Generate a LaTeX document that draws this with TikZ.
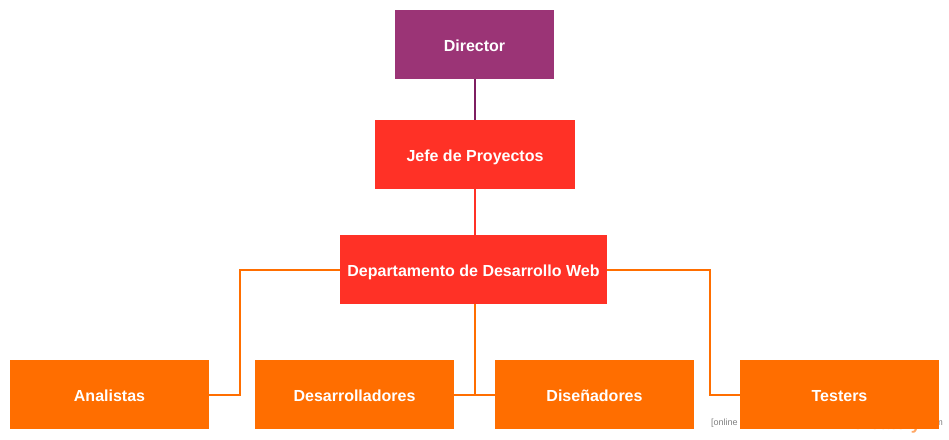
\documentclass[tikz,border=0pt]{standalone}
\usepackage{fontspec}
\setmainfont{Liberation Sans}
\usetikzlibrary{positioning}
\definecolor{dirpurple}{HTML}{9B3476}
\definecolor{dirline}{HTML}{7E1F62}
\definecolor{jefered}{HTML}{FF3126}
\definecolor{teamorange}{HTML}{FF6E00}
\tikzset{
    % Boxes of the chart
    chart box/.style={rectangle, minimum height=69pt, inner sep=0pt, text=white,
        text height=14.5pt, text depth=0pt,
        font=\fontsize{16}{19}\selectfont\bfseries},
    top box/.style={chart box, fill=dirpurple, minimum width=159pt},
    head box/.style={chart box, fill=jefered, minimum width=200pt},
    dept box/.style={chart box, fill=jefered, minimum width=267pt},
    team box/.style={chart box, fill=teamorange, minimum width=199pt},
    % Connectors
    link/.style={line width=2pt},
    team link/.style={link, teamorange}
}
\begin{document}
\begin{tikzpicture}[x=1pt, y=-1pt]
    % --- Canvas ---
    \useasboundingbox (0,0) rectangle (949,439);

    % --- Watermark (mostly hidden behind Testers) ---
    \node[anchor=west, inner sep=0pt, text=gray, font=\fontsize{9}{10}\selectfont] (markleft) at (711,423) {[online diagramming \& design]};
    \node[anchor=east, inner sep=0pt, text=teamorange!60, font=\fontsize{18}{20}\selectfont\bfseries] (marklogo) at (921,425) {creately};
    \node[anchor=east, inner sep=0pt, text=gray, font=\fontsize{9}{10}\selectfont] (markright) at (943,423) {.com};

    % --- Boxes ---
    \node[top box] (director) at (474.5,44.5) {Director};
    \node[head box] (jefe) at (475,154.5) {Jefe de Proyectos};
    \node[dept box] (depto) at (473.5,269.5) {Departamento de Desarrollo Web};

    \node[team box] (analistas) at (109.5,394.5) {Analistas};
    \node[team box] (desarr) at (354.5,394.5) {Desarrolladores};
    \node[team box] (disen) at (594.5,394.5) {Diseñadores};
    \node[team box] (testers) at (839.5,394.5) {Testers};

    % --- Connectors ---
    \draw[link, dirline] (director.south -| 475,0) -- (jefe.north -| 475,0);
    \draw[link, jefered] (jefe.south -| 475,0) -- (depto.south -| 475,0);
    \draw[team link] (depto.west) -| (240,394.5) -- (analistas.east);
    \draw[team link] (depto.south -| 475,0) -- (475,394.5);
    \draw[team link] (desarr.east) -- (disen.west);
    \draw[team link] (depto.east) -| (710,394.5) -- (testers.west);

    % redraw the department box over its own link
    \node[dept box] at (depto) {Departamento de Desarrollo Web};
\end{tikzpicture}
\end{document}
